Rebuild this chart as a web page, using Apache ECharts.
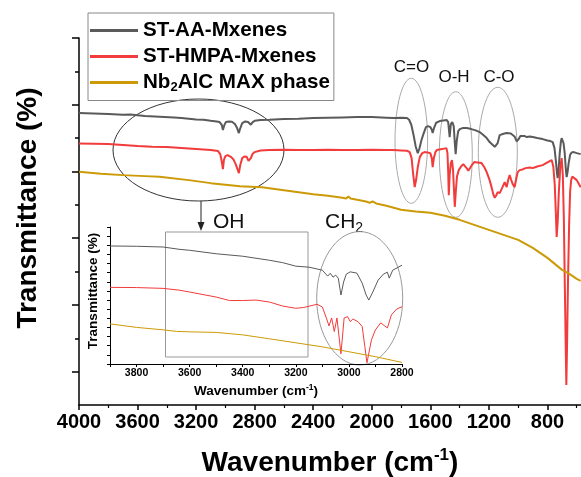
<!DOCTYPE html>
<html>
<head>
<meta charset="utf-8">
<script src="https://cdn.jsdelivr.net/npm/echarts@6/dist/echarts.min.js"></script>
<style>
html,body{margin:0;padding:0;background:#fff;}
#chart{width:581px;height:477px;}
</style>
</head>
<body>
<div id="chart"></div>
<script>
// ---------------- DATA ----------------
const seriesNames = ['ST-AA-Mxenes', 'ST-HMPA-Mxenes', 'Nb2AlC MAX phase'];
const xTicksMain = [4000, 3600, 3200, 2800, 2400, 2000, 1600, 1200, 800];
const xTicksInset = [3800, 3600, 3400, 3200, 3000, 2800];

// Main panel: ST-AA-Mxenes
const aaWn = [4000,3900,3800,3700,3650,3550,3450,3350,3300,3200,3150,3100,3060,3040,3025,3017,3008,2997,2975,2955,2935,2920,2908,2898,2885,2865,2845,2835,2826,2815,2800,2760,2700,2600,2500,2400,2300,2200,2100,2000,1900,1850,1800,1760,1745,1730,1715,1700,1686,1675,1660,1645,1630,1615,1600,1590,1584,1575,1560,1536,1510,1488,1478,1468,1460,1450,1440,1432,1427,1420,1410,1399,1380,1351,1320,1290,1263,1240,1215,1195,1175,1160,1150,1140,1126,1100,1080,1050,1037,1025,1010,1003,995,985,976,955,940,920,900,870,833,800,780,764,752,742,735,730,724,716,708,703,697,690,682,675,669,662,655,645,635,620,600,573];
const aaT = [8.75,8.74,8.72,8.70,8.71,8.66,8.64,8.62,8.60,8.56,8.55,8.52,8.50,8.48,8.40,8.24,8.38,8.48,8.50,8.49,8.42,8.30,8.15,8.30,8.45,8.50,8.48,8.44,8.40,8.47,8.52,8.54,8.55,8.57,8.58,8.60,8.61,8.62,8.63,8.63,8.61,8.60,8.61,8.60,8.55,8.40,8.10,7.75,7.55,7.68,7.95,8.15,8.33,8.36,8.33,8.25,8.15,8.30,8.46,8.51,8.53,8.54,8.48,8.03,8.42,8.48,8.35,7.80,7.52,7.90,8.20,8.27,8.30,8.30,8.27,8.23,8.18,8.10,8.00,7.88,7.80,7.74,7.76,7.85,8.09,8.13,8.15,8.14,8.15,8.05,7.90,7.88,7.98,8.06,8.09,8.06,8.03,8.05,8.03,8.00,7.97,7.93,7.91,7.88,7.70,7.30,6.95,6.80,7.05,7.55,7.90,8.00,8.02,7.85,7.55,7.10,6.83,7.00,7.25,7.50,7.57,7.58,7.55,7.52];

// Main panel: ST-HMPA-Mxenes
const hmWn = [4000,3900,3800,3700,3600,3500,3400,3300,3200,3100,3050,3035,3025,3017,3010,3000,2985,2960,2945,2930,2918,2908,2898,2885,2870,2855,2842,2834,2826,2815,2800,2760,2700,2600,2500,2400,2300,2200,2100,2000,1900,1850,1800,1760,1741,1728,1718,1707,1697,1685,1672,1655,1640,1620,1600,1590,1584,1576,1565,1556,1520,1490,1483,1478,1474,1468,1460,1452,1445,1438,1433,1426,1418,1406,1390,1375,1365,1352,1340,1331,1315,1300,1280,1250,1230,1215,1195,1180,1170,1160,1150,1140,1126,1110,1092,1085,1078,1068,1058,1048,1037,1024,1012,1003,990,970,950,920,901,870,833,800,790,771,760,750,743,737,730,722,712,703,695,688,682,676,671,666,660,652,645,638,630,620,600,573];
const hmT = [7.84,7.83,7.82,7.79,7.76,7.74,7.73,7.70,7.67,7.64,7.61,7.52,7.30,7.07,7.35,7.46,7.49,7.43,7.36,7.22,7.08,6.95,7.20,7.40,7.45,7.44,7.32,7.30,7.40,7.52,7.58,7.63,7.64,7.65,7.64,7.64,7.65,7.64,7.64,7.65,7.64,7.64,7.63,7.62,7.58,7.40,6.95,6.53,6.75,7.15,7.43,7.55,7.58,7.57,7.55,7.40,7.13,7.40,7.58,7.64,7.67,7.70,7.55,7.00,6.29,6.90,7.25,7.34,7.05,6.40,5.94,6.40,6.85,7.04,7.15,7.22,7.25,7.10,7.02,7.04,7.20,7.28,7.27,7.25,7.12,6.98,6.74,6.50,6.32,6.21,6.28,6.38,6.35,6.50,6.68,6.60,6.53,6.75,6.89,6.75,6.62,6.53,6.80,6.98,7.04,7.06,7.10,7.12,7.10,7.15,7.19,7.27,7.31,7.34,7.15,6.60,5.80,5.04,5.50,6.40,7.15,7.40,6.90,5.60,3.80,2.00,0.60,1.80,3.60,5.40,6.40,6.74,6.85,6.89,6.74,6.53];

// Main panel: Nb2AlC MAX phase
const mxWn = [4000,3850,3700,3550,3450,3250,3100,2900,2750,2600,2400,2300,2200,2175,2160,2145,2100,2040,2014,1995,1985,1970,1900,1800,1700,1600,1500,1400,1300,1200,1100,1000,950,900,850,800,750,700,650,600,573];
const mxT = [6.99,6.93,6.89,6.86,6.84,6.74,6.65,6.56,6.53,6.44,6.32,6.27,6.21,6.19,6.25,6.19,6.15,6.10,6.06,6.10,6.08,6.04,5.97,5.85,5.80,5.76,5.67,5.55,5.40,5.25,5.10,4.95,4.83,4.71,4.56,4.41,4.23,4.05,3.93,3.78,3.72];

// Inset panel (3900-2800 cm-1)
const aaInWn = [3900,3800,3700,3640,3600,3500,3400,3300,3250,3200,3150,3100,3080,3070,3060,3050,3040,3030,3020,3010,2995,2970,2950,2935,2925,2910,2890,2870,2855,2848,2835,2800];
const aaInT = [12.92,12.89,12.81,12.56,12.45,12.07,11.80,11.36,11.10,10.71,10.60,10.27,9.62,9.94,9.51,9.73,9.40,7.55,8.97,9.84,10.09,9.95,8.86,7.55,7.00,7.88,9.18,9.84,10.05,9.40,10.27,10.82];
const hmInWn = [3900,3800,3700,3640,3600,3500,3450,3400,3350,3300,3250,3200,3170,3120,3100,3085,3075,3065,3055,3045,3030,3018,3005,2995,2985,2965,2950,2940,2932,2925,2915,2900,2880,2865,2855,2840,2820,2800];
const hmInT = [8.39,8.37,8.28,8.09,7.88,7.33,6.95,6.95,7.00,6.79,6.35,6.10,6.19,6.54,6.24,5.04,4.17,5.04,3.55,5.04,1.12,5.04,5.19,4.64,4.93,4.61,4.10,1.92,0.14,0.14,2.65,3.74,4.50,4.17,3.95,5.37,6.02,6.27];
const mxInWn = [3900,3800,3700,3650,3600,3500,3400,3300,3200,3100,3000,2900,2800];
const mxInT = [4.39,4.01,3.74,3.57,3.52,3.46,3.19,2.76,2.32,1.88,1.34,0.80,0.17];

// ---------------- CHART ----------------
const FONT = 'Arial, "Liberation Sans", sans-serif';
const C_AA = '#5a5a5a', C_HM = '#f23b3b', C_MX = '#cc9a06';
const pair = (w, t) => w.map((v, i) => [v, t[i]]);

const chart = echarts.init(document.getElementById('chart'), null, {renderer: 'canvas'});

function lineSeries(name, data, color, width, xi, yi) {
  return {
    type: 'line', name: name, data: data, xAxisIndex: xi, yAxisIndex: yi,
    showSymbol: false, symbol: 'none', smooth: false,
    lineStyle: {color: color, width: width}, itemStyle: {color: color},
    emphasis: {disabled: true}, silent: true, clip: true
  };
}

const option = {
  animation: false,
  backgroundColor: '#fff',
  textStyle: {fontFamily: FONT},
  grid: [
    {left: 79, top: 38, width: 527, height: 367, containLabel: false, outerBoundsMode: 'none'},
    {left: 110, top: 227, width: 292, height: 137, containLabel: false, outerBoundsMode: 'none'}
  ],
  legend: {
    orient: 'vertical', left: 88, top: 13,
    itemWidth: 48, itemHeight: 3, itemGap: 5,
    padding: [7, 4, 7, 2],
    borderColor: '#888', borderWidth: 1,
    data: seriesNames.map(n => ({name: n, icon: 'rect'})),
    formatter: function (n) {
      if (n === 'Nb2AlC MAX phase') return '{a|Nb}{s|2}{a|AlC MAX phase}';
      return '{a|' + n + '}';
    },
    textStyle: {
      color: '#000', fontSize: 20.6, fontWeight: 'bold', fontFamily: FONT,
      rich: {
        a: {fontSize: 20.6, fontWeight: 'bold', fontFamily: FONT, color: '#000', lineHeight: 22},
        s: {fontSize: 13, fontWeight: 'bold', fontFamily: FONT, color: '#000', lineHeight: 13, verticalAlign: 'bottom'}
      }
    }
  },
  xAxis: [
    {
      type: 'value', gridIndex: 0, min: 400, max: 4000, interval: 400, inverse: true,
      axisLine: {show: true, onZero: false, lineStyle: {color: '#000', width: 1.5}},
      axisTick: {show: true, length: 5, lineStyle: {color: '#000', width: 1.5}},
      minorTick: {show: true, splitNumber: 2, length: 3, lineStyle: {color: '#000', width: 1.2}},
      splitLine: {show: false},
      axisLabel: {
        fontSize: 20, fontWeight: 'bold', color: '#000', fontFamily: FONT, margin: 7,
        formatter: v => (xTicksMain.indexOf(v) >= 0 ? String(v) : '')
      },
      name: '{t|Wavenumber (cm}{p|-1}{t|)}',
      nameLocation: 'middle', nameGap: 42,
      nameTextStyle: {
        padding: [0, 25, 0, 0],
        rich: {
          t: {fontSize: 28, fontWeight: 'bold', fontFamily: FONT, color: '#000', lineHeight: 32},
          p: {fontSize: 17, fontWeight: 'bold', fontFamily: FONT, color: '#000', lineHeight: 17, verticalAlign: 'top'}
        }
      }
    },
    {
      type: 'value', gridIndex: 1, min: 2800, max: 3900, interval: 100, inverse: true,
      axisLine: {show: true, onZero: false, lineStyle: {color: '#000', width: 1}},
      axisTick: {show: true, length: 3, lineStyle: {color: '#000', width: 1}},
      splitLine: {show: false},
      axisLabel: {
        fontSize: 10.5, fontWeight: 'bold', color: '#000', fontFamily: FONT, margin: 4,
        formatter: v => (xTicksInset.indexOf(v) >= 0 ? String(v) : '')
      },
      name: '{t|Wavenumber (cm}{p|-1}{t|)}',
      nameLocation: 'middle', nameGap: 19,
      nameTextStyle: {
        rich: {
          t: {fontSize: 13.5, fontWeight: 'bold', fontFamily: FONT, color: '#000', lineHeight: 16},
          p: {fontSize: 8.5, fontWeight: 'bold', fontFamily: FONT, color: '#000', lineHeight: 9, verticalAlign: 'top'}
        }
      }
    }
  ],
  yAxis: [
    {
      type: 'value', gridIndex: 0, min: 0, max: 11, interval: 1, position: 'left',
      axisLine: {show: true, onZero: false, lineStyle: {color: '#000', width: 1.5}},
      axisTick: {show: true, length: 4, customValues: [2, 4, 6, 8, 10], lineStyle: {color: '#000', width: 1.5}},
      axisLabel: {show: false}, splitLine: {show: false},
      name: 'Transmittance (%)', nameLocation: 'middle', nameGap: 37,
      nameTextStyle: {fontSize: 28, fontWeight: 'bold', color: '#000', fontFamily: FONT, padding: [0, 0, 0, 27]}
    },
    {
      type: 'value', gridIndex: 0, min: 0, max: 11, interval: 1, position: 'left',
      axisLine: {show: false},
      axisTick: {show: true, length: 7, customValues: [1, 3, 5, 7, 9, 11], lineStyle: {color: '#000', width: 1.5}},
      axisLabel: {show: false}, splitLine: {show: false}
    },
    {
      type: 'value', gridIndex: 1, min: 0, max: 15, interval: 1,
      axisLine: {show: true, onZero: false, lineStyle: {color: '#000', width: 1}},
      axisTick: {show: true, length: 3, lineStyle: {color: '#000', width: 1}},
      axisLabel: {show: false}, splitLine: {show: false},
      name: 'Transmittance (%)', nameLocation: 'middle', nameGap: 10,
      nameTextStyle: {fontSize: 13.5, fontWeight: 'bold', color: '#000', fontFamily: FONT, padding: [0, 0, 0, 9]}
    }
  ],
  series: [
    lineSeries(seriesNames[0], pair(aaWn, aaT), C_AA, 2, 0, 0),
    lineSeries(seriesNames[1], pair(hmWn, hmT), C_HM, 2, 0, 0),
    lineSeries(seriesNames[2], pair(mxWn, mxT), C_MX, 2, 0, 0),
    lineSeries('inset AA', pair(aaInWn, aaInT), C_AA, 1, 1, 2),
    lineSeries('inset HMPA', pair(hmInWn, hmInT), C_HM, 1, 1, 2),
    lineSeries('inset MAX', pair(mxInWn, mxInT), C_MX, 1, 1, 2)
  ],
  graphic: {
    elements: [
      {type: 'ellipse', silent: true, shape: {cx: 198.5, cy: 150, rx: 85.5, ry: 51}, style: {fill: 'none', stroke: '#333', lineWidth: 1}},
      {type: 'line', silent: true, shape: {x1: 201, y1: 201, x2: 201, y2: 224}, style: {stroke: '#222', lineWidth: 1}},
      {type: 'polygon', silent: true, shape: {points: [[197.5, 222], [204.5, 222], [201, 231]]}, style: {fill: '#222'}},
      {type: 'text', silent: true, x: 213, y: 222, style: {text: 'OH', font: '21px ' + FONT, fill: '#111', align: 'left', verticalAlign: 'middle', textAlign: 'left', textVerticalAlign: 'middle'}},
      {type: 'rect', silent: true, shape: {x: 165.5, y: 232, width: 142.5, height: 125}, style: {fill: 'none', stroke: '#999', lineWidth: 1}},
      {type: 'text', silent: true, x: 325, y: 222, style: {
        text: '{a|CH}{b|2}', align: 'left', verticalAlign: 'middle', textAlign: 'left', textVerticalAlign: 'middle',
        rich: {a: {fontSize: 21, fontFamily: FONT, fill: '#111', lineHeight: 26}, b: {fontSize: 14, fontFamily: FONT, fill: '#111', lineHeight: 14, verticalAlign: 'bottom'}}
      }},
      {type: 'ellipse', silent: true, shape: {cx: 359.7, cy: 298.3, rx: 43, ry: 66.7}, style: {fill: 'none', stroke: '#999', lineWidth: 1}},
      {type: 'ellipse', silent: true, shape: {cx: 411.3, cy: 140.8, rx: 16.3, ry: 62.5}, style: {fill: 'none', stroke: '#aaa', lineWidth: 1}},
      {type: 'ellipse', silent: true, shape: {cx: 455.8, cy: 154.5, rx: 16.5, ry: 62.8}, style: {fill: 'none', stroke: '#aaa', lineWidth: 1}},
      {type: 'ellipse', silent: true, shape: {cx: 497.8, cy: 152.3, rx: 19.5, ry: 65}, style: {fill: 'none', stroke: '#aaa', lineWidth: 1}},
      {type: 'text', silent: true, x: 411.5, y: 67, style: {text: 'C=O', font: '17px ' + FONT, fill: '#111', align: 'center', verticalAlign: 'middle', textAlign: 'center', textVerticalAlign: 'middle'}},
      {type: 'text', silent: true, x: 454, y: 77.5, style: {text: 'O-H', font: '17px ' + FONT, fill: '#111', align: 'center', verticalAlign: 'middle', textAlign: 'center', textVerticalAlign: 'middle'}},
      {type: 'text', silent: true, x: 499, y: 77.5, style: {text: 'C-O', font: '17px ' + FONT, fill: '#111', align: 'center', verticalAlign: 'middle', textAlign: 'center', textVerticalAlign: 'middle'}}
    ]
  }
};
chart.setOption(option);
</script>
</body>
</html>
